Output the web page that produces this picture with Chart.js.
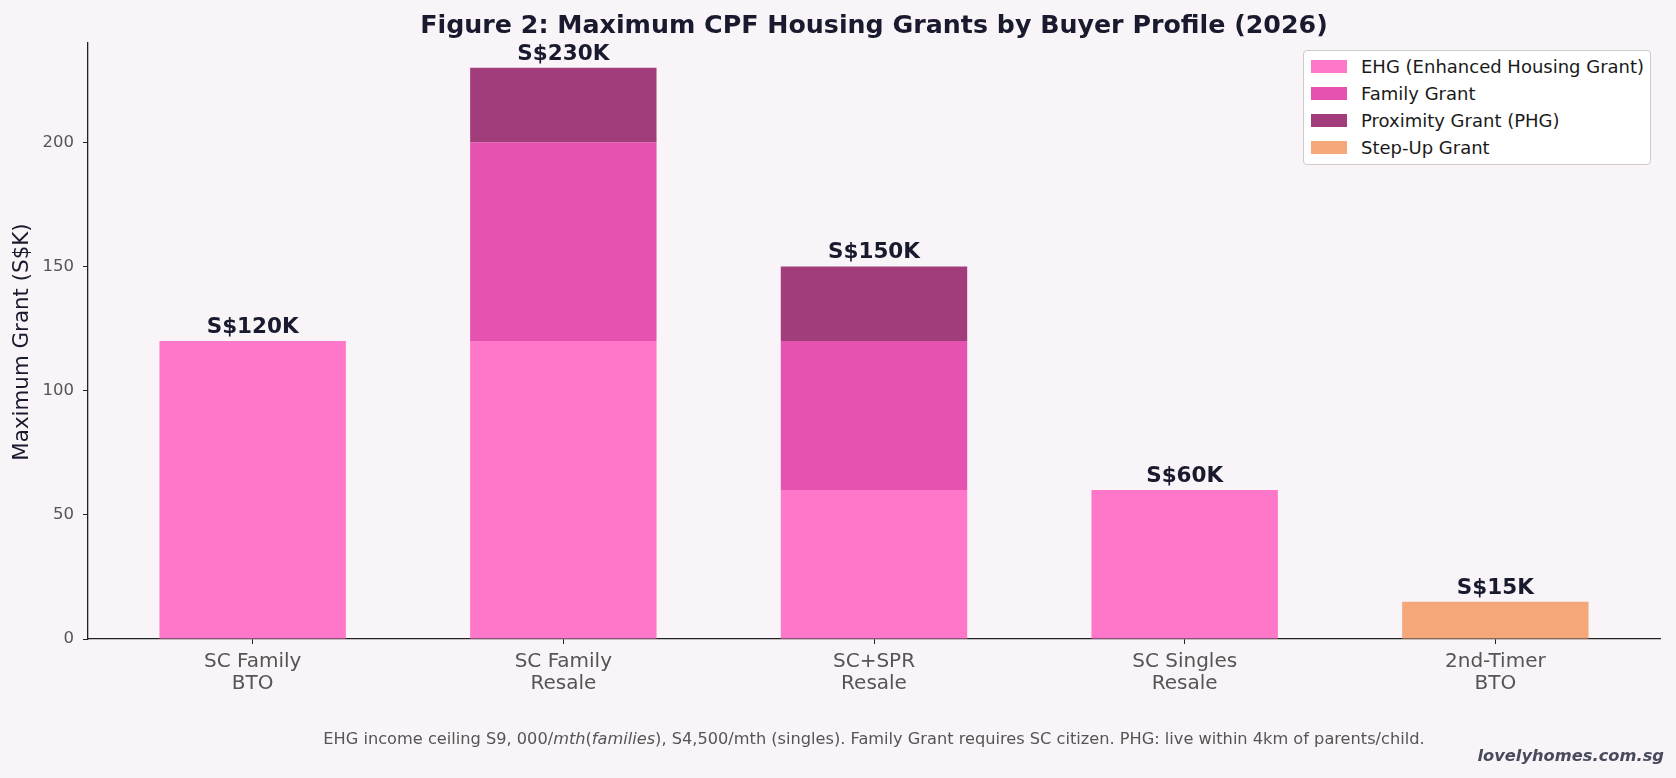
<!DOCTYPE html>
<html lang="en">
    <head>
        <meta charset="UTF-8">
        <title>Maximum CPF Housing Grants</title>
        <script src="https://cdn.jsdelivr.net/npm/chart.js@4.4.0/dist/chart.umd.min.js"></script>
        <style>
            body { margin: 0; background: #f8f4f8; font-family: "DejaVu Sans", sans-serif; }
            .wrap { position: relative; width: 1676px; height: 778px; }
            .legend { position: absolute; left: 1303px; top: 50px; width: 348px; height: 115px;
                      background: #ffffff; border: 1px solid #cccccc; border-radius: 4px; box-sizing: border-box;
                      padding-top: 2px; }
            .legend div { height: 27px; display: flex; align-items: center; font-size: 18px; color: #1a1a1a; }
            .legend span.sw { display: inline-block; width: 36px; height: 13px; margin: 0 14px 0 7px; }
        </style>
    </head>
    <body>
        <div class="wrap">
            <canvas id="grantChart"></canvas>
            <div class="legend" id="legend"></div>
        </div>

        <script>
            // data (S$K)
            const categories = [["SC Family", "BTO"], ["SC Family", "Resale"], ["SC+SPR", "Resale"], ["SC Singles", "Resale"], ["2nd-Timer", "BTO"]];
            const ehg = [120, 120, 60, 60, 0];
            const familyGrant = [0, 80, 60, 0, 0];
            const proximityGrant = [0, 30, 30, 0, 0];
            const stepUpGrant = [0, 0, 0, 0, 15];
            const yTicks = [0, 50, 100, 150, 200];

            const seriesNames = ["EHG (Enhanced Housing Grant)", "Family Grant", "Proximity Grant (PHG)", "Step-Up Grant"];
            const seriesColors = ["#ff77c8", "#e552b0", "#a23d7c", "#f4a87a"];
            const seriesValues = [ehg, familyGrant, proximityGrant, stepUpGrant];

            const ink = "#1a1a2e";
            const grey = "#555555";

            // legend box (top right, like the original)
            const legendBox = document.getElementById("legend");
            seriesNames.forEach((name, i) => {
                const row = document.createElement("div");
                row.innerHTML = '<span class="sw" style="background:' + seriesColors[i] + '"></span>' + name;
                legendBox.appendChild(row);
            });

            const datasets = seriesValues.map((vals, i) => ({
                label: seriesNames[i],
                data: vals.map((v, j) => ({x: j, y: v})),
                backgroundColor: seriesColors[i],
                borderWidth: 0,
                categoryPercentage: 1,
                barPercentage: 0.6
            }));

            const extras = {
                id: "extras",
                afterDraw(chart) {
                    const ctx = chart.ctx;
                    const xs = chart.scales.x, ys = chart.scales.y;
                    ctx.save();

                    // title
                    ctx.fillStyle = ink;
                    ctx.font = "bold 25.3px 'DejaVu Sans'";
                    ctx.textAlign = "center";
                    ctx.textBaseline = "middle";
                    ctx.fillText("Figure 2: Maximum CPF Housing Grants by Buyer Profile (2026)", (chart.chartArea.left + chart.chartArea.right) / 2, 26);

                    // y axis title
                    ctx.save();
                    ctx.translate(22, 342);
                    ctx.rotate(-Math.PI / 2);
                    ctx.font = "21.4px 'DejaVu Sans'";
                    ctx.fillText("Maximum Grant (S$K)", 0, 0);
                    ctx.restore();

                    // totals above bars
                    ctx.font = "bold 21.5px 'DejaVu Sans'";
                    ctx.textBaseline = "bottom";
                    categories.forEach((c, j) => {
                        let total = 0;
                        seriesValues.forEach(s => total += s[j]);
                        ctx.fillText("S$" + total + "K", xs.getPixelForValue(j), ys.getPixelForValue(total) - 3);
                    });

                    // footnote, with the italic bits the source rendered
                    const parts = [
                        ["EHG income ceiling S9, 000/", false], ["mth", true], ["(", false], ["families", true],
                        ["), S4,500/mth (singles). Family Grant requires SC citizen. PHG: live within 4km of parents/child.", false]
                    ];
                    const fn = it => (it ? "italic " : "") + "16.2px 'DejaVu Sans'";
                    let w = 0;
                    parts.forEach(p => { ctx.font = fn(p[1]); w += ctx.measureText(p[0]).width; });
                    let px = 874 - w / 2;
                    ctx.fillStyle = grey;
                    ctx.textAlign = "left";
                    ctx.textBaseline = "middle";
                    parts.forEach(p => { ctx.font = fn(p[1]); ctx.fillText(p[0], px, 740); px += ctx.measureText(p[0]).width; });

                    // watermark
                    ctx.font = "italic bold 16.3px 'DejaVu Sans'";
                    ctx.fillStyle = "#4a4a5e";
                    ctx.textAlign = "right";
                    ctx.fillText("lovelyhomes.com.sg", 1664, 757);
                    ctx.restore();
                }
            };

            new Chart("grantChart", {
                type: "bar",
                data: {datasets: datasets},
                plugins: [extras],
                options: {
                    responsive: true,
                    maintainAspectRatio: false,
                    animation: false,
                    layout: {padding: {top: 43, right: 16, left: 0, bottom: 0}},
                    plugins: {legend: {display: false}, tooltip: {enabled: false}},
                    scales: {
                        x: {
                            type: "linear",
                            stacked: true,
                            offset: false,
                            min: -0.53,
                            max: 4.53,
                            afterBuildTicks: s => { s.ticks = categories.map((c, i) => ({value: i})); },
                            afterFit: s => { s.height = 139; },
                            grid: {offset: false, drawOnChartArea: false, drawTicks: true, tickLength: 5, color: "#222"},
                            border: {display: true, color: "#222", width: 1.3},
                            ticks: {
                                callback: v => categories[v],
                                color: grey,
                                font: {family: "DejaVu Sans", size: 20, lineHeight: 1.08},
                                padding: 7,
                                maxRotation: 0,
                                autoSkip: false
                            }
                        },
                        y: {
                            stacked: true,
                            min: 0,
                            max: 240,
                            afterBuildTicks: s => { s.ticks = yTicks.map(v => ({value: v})); },
                            afterFit: s => { s.width = 88; },
                            grid: {drawOnChartArea: false, drawTicks: true, tickLength: 5, color: "#222"},
                            border: {display: true, color: "#222", width: 1.3},
                            ticks: {
                                color: grey,
                                font: {family: "DejaVu Sans", size: 16.5},
                                padding: 9
                            }
                        }
                    }
                }
            });
        </script>
    </body>
</html>
